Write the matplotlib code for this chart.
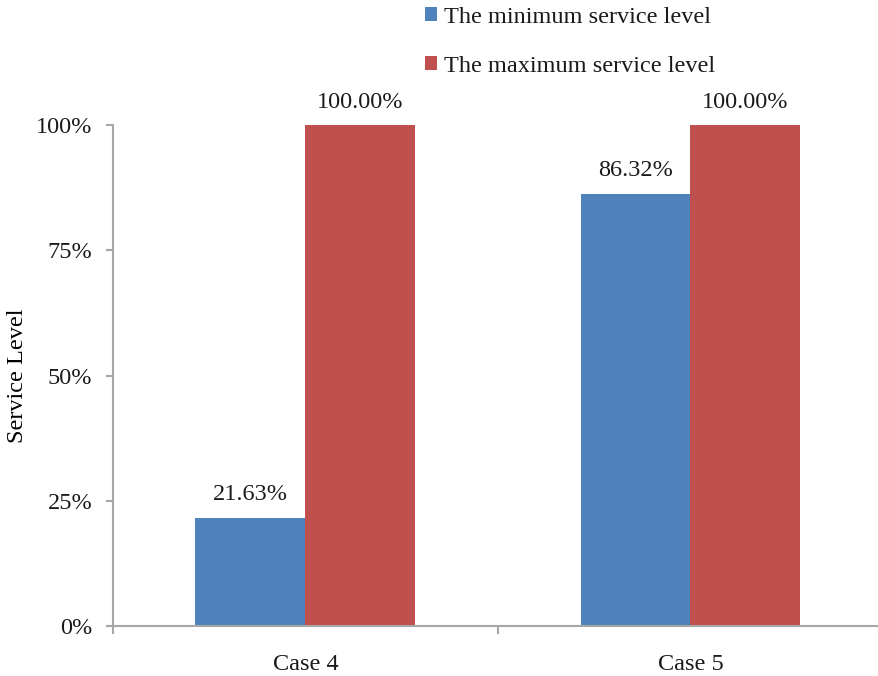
import matplotlib
matplotlib.use('Agg')
import matplotlib.pyplot as plt
import numpy as np

# Data
cases = ["Case 4", "Case 5"]
min_level = [0.2163, 0.8632]
max_level = [1.0, 1.0]
series_names = ["The minimum service level", "The maximum service level"]
y_ticks = [0, 0.25, 0.5, 0.75, 1.0]
y_tick_labels = ["0%", "25%", "50%", "75%", "100%"]

blue = '#4F81BD'
red = '#C0504D'
spine_gray = '#A6A6A6'

plt.rcParams['font.family'] = ['Liberation Serif', 'DejaVu Serif']
plt.rcParams['font.size'] = 17.5
plt.rcParams['text.color'] = '#1a1a1a'

W, H = 879, 676
fig = plt.figure(figsize=(W / 100, H / 100), dpi=100)
# axes in pixel coords: left 113, right 883, bottom 626, top 125
ax = fig.add_axes([113 / W, (H - 626) / H, (883 - 113) / W, (626 - 125) / H])

x = np.arange(len(cases))
bw = 1 / 3.5
b1 = ax.bar(x - bw / 2, min_level, bw, color=blue, label=series_names[0])
b2 = ax.bar(x + bw / 2, max_level, bw, color=red, label=series_names[1])

for bars, vals in ((b1, min_level), (b2, max_level)):
    for bar, v in zip(bars, vals):
        ax.annotate(f"{v * 100:.2f}%", (bar.get_x() + bar.get_width() / 2, v),
                    xytext=(0, 9), textcoords='offset points',
                    ha='center', va='bottom', color='#1a1a1a',
                    annotation_clip=False)

ax.set_xlim(-0.5, 1.5)
ax.set_ylim(0, 1)
ax.set_yticks(y_ticks)
ax.set_yticklabels(y_tick_labels, color='#1a1a1a')
ax.set_xticks(x)
ax.set_xticklabels(cases, color='#1a1a1a')
ax.tick_params(axis='x', length=0, pad=20)
ax.tick_params(axis='y', length=5, color=spine_gray, width=1.5, pad=10)
# category separators on the x axis
ax.set_xticks([-0.5, 0.5, 1.5], minor=True)
ax.tick_params(axis='x', which='minor', length=6, color=spine_gray, width=1.5)

for s in ['top', 'right']:
    ax.spines[s].set_visible(False)
for s in ['left', 'bottom']:
    ax.spines[s].set_color(spine_gray)
    ax.spines[s].set_linewidth(1.5)

ax.set_ylabel("Service Level")
ax.yaxis.set_label_coords(-85 / 770, 0.5)

fig.legend(handles=[b1, b2], loc='upper left',
           bbox_to_anchor=(415 / W, 1 + 3 / H), frameon=False,
           handlelength=0.5, handleheight=0.5, handletextpad=0.3,
           labelspacing=1.15, borderaxespad=0)

fig.savefig('out.png', dpi=100)
